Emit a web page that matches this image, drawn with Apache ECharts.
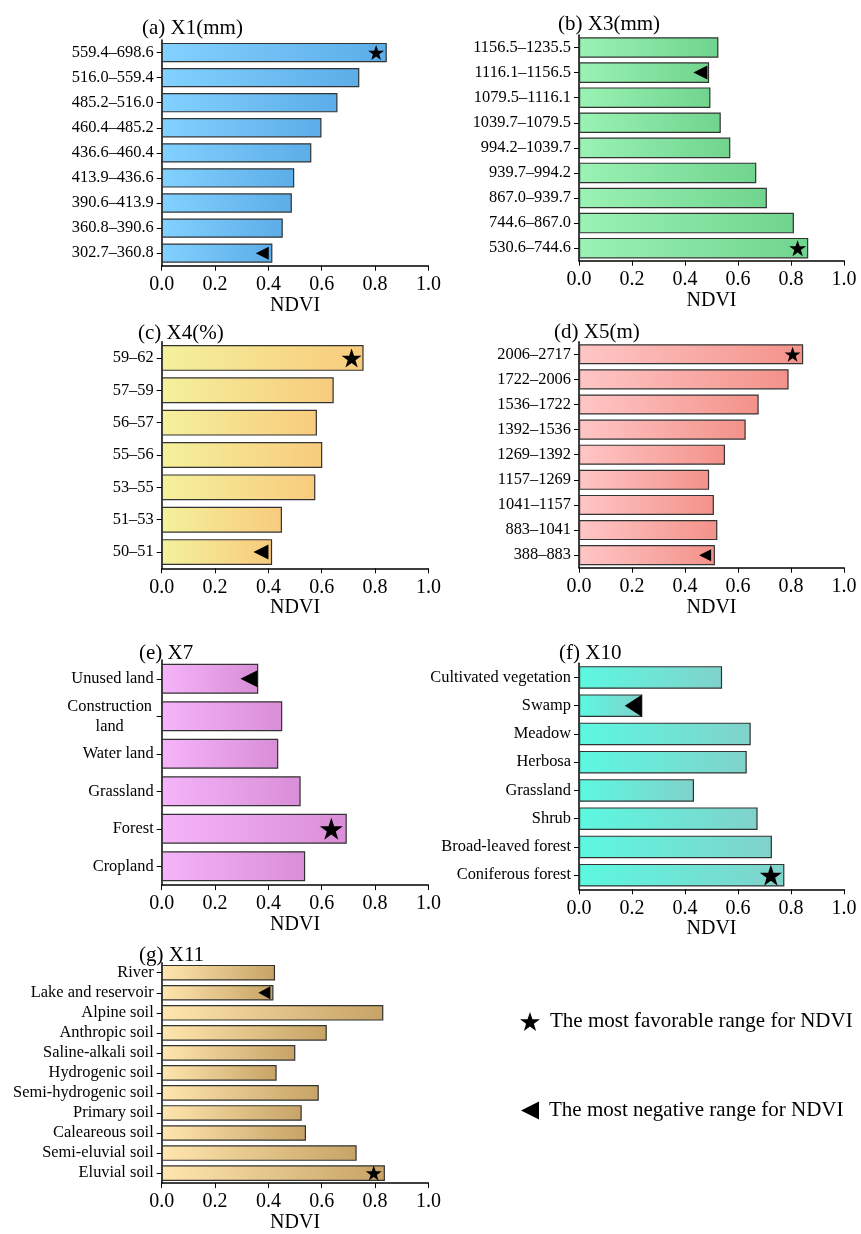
<!DOCTYPE html>
<html>
<head>
<meta charset="utf-8">
<script src="https://cdn.jsdelivr.net/npm/echarts@6/dist/echarts.min.js"></script>
<style>
html,body{margin:0;padding:0;background:#fff;}
#chart{width:861px;height:1234px;}
</style>
</head>
<body>
<div id="chart"></div>
<script>
// ---- Data ----
const xTicks = [0.0, 0.2, 0.4, 0.6, 0.8, 1.0];

const catsA = ['559.4–698.6','516.0–559.4','485.2–516.0','460.4–485.2','436.6–460.4','413.9–436.6','390.6–413.9','360.8–390.6','302.7–360.8'];
const valsA = [0.844, 0.741, 0.659, 0.599, 0.561, 0.497, 0.488, 0.454, 0.415];
const starA = [0.804, '559.4–698.6'];
const triA  = [0.377, '302.7–360.8'];

const catsB = ['1156.5–1235.5','1116.1–1156.5','1079.5–1116.1','1039.7–1079.5','994.2–1039.7','939.7–994.2','867.0–939.7','744.6–867.0','530.6–744.6'];
const valsB = [0.526, 0.491, 0.496, 0.535, 0.571, 0.669, 0.709, 0.811, 0.865];
const starB = [0.825, '530.6–744.6'];
const triB  = [0.458, '1116.1–1156.5'];

const catsC = ['59–62','57–59','56–57','55–56','53–55','51–53','50–51'];
const valsC = [0.757, 0.645, 0.582, 0.602, 0.576, 0.451, 0.414];
const starC = [0.712, '59–62'];
const triC  = [0.372, '50–51'];

const catsD = ['2006–2717','1722–2006','1536–1722','1392–1536','1269–1392','1157–1269','1041–1157','883–1041','388–883'];
const valsD = [0.846, 0.791, 0.678, 0.629, 0.551, 0.491, 0.509, 0.522, 0.513];
const starD = [0.806, '2006–2717'];
const triD  = [0.476, '388–883'];

const catsE = ['Unused land','Construction land','Water land','Grassland','Forest','Cropland'];
const valsE = [0.362, 0.452, 0.437, 0.521, 0.694, 0.538];
const starE = [0.636, 'Forest'];
const triE  = [0.327, 'Unused land'];

const catsF = ['Cultivated vegetation','Swamp','Meadow','Herbosa','Grassland','Shrub','Broad-leaved forest','Coniferous forest'];
const valsF = [0.540, 0.239, 0.648, 0.633, 0.434, 0.674, 0.728, 0.775];
const starF = [0.724, 'Coniferous forest'];
const triF  = [0.205, 'Swamp'];

const catsG = ['River','Lake and reservoir','Alpine soil','Anthropic soil','Saline-alkali soil','Hydrogenic soil','Semi-hydrogenic soil','Primary soil','Caleareous soil','Semi-eluvial soil','Eluvial soil'];
const valsG = [0.425, 0.419, 0.831, 0.619, 0.501, 0.431, 0.589, 0.525, 0.541, 0.731, 0.837];
const starG = [0.795, 'Eluvial soil'];
const triG  = [0.385, 'Lake and reservoir'];

const titles = ['(a) X1(mm)','(b) X3(mm)','(c) X4(%)','(d) X5(m)','(e) X7','(f) X10','(g) X11'];
const legendNames = ['The most favorable range for NDVI','The most negative range for NDVI'];

// ---- Layout / style ----
const FONT = "'Liberation Serif','Times New Roman',serif";
const STAR = 'path://M50,0 L61.8,35.1 L98.1,35.1 L68.8,56.8 L79.4,91.5 L50,70 L20.6,91.5 L31.2,56.8 L1.9,35.1 L38.2,35.1 Z';
const TRI = 'path://M0,50 L100,0 L100,100 Z';
const LBL = 16.4;

const panels = [
  {cats: catsA, vals: valsA, star: starA, tri: triA, grid:{left:161.7, top:40, width:266.7, height:225.7}, gap:'23%', c:['#82d1ff','#5cade8'], starSize:[16,15], triSize:[13,13], title:{left:137, top:13}},
  {cats: catsB, vals: valsB, star: starB, tri: triB, grid:{left:579, top:35, width:265, height:225.7}, gap:'18%', c:['#9af3b4','#70d48e'], starSize:[17,16], triSize:[14,14], title:{left:553, top:9}},
  {cats: catsC, vals: valsC, star: starC, tri: triC, grid:{left:161.7, top:341.7, width:266.7, height:226.6}, gap:'20%', c:['#f4f19c','#f8cb7d'], starSize:[20,19], triSize:[15,15], title:{left:133, top:318}},
  {cats: catsD, vals: valsD, star: starD, tri: triD, grid:{left:579, top:341.7, width:265, height:226}, gap:'20%', c:['#ffc6c6','#f3928a'], starSize:[16,15], triSize:[12,12], title:{left:549, top:317}},
  {cats: catsE, vals: valsE, star: starE, tri: triE, grid:{left:161.7, top:660, width:266.7, height:225}, gap:'20%', c:['#f5b4f9','#d98ed7'], starSize:[23,22], triSize:[17,17], title:{left:134, top:638}},
  {cats: catsF, vals: valsF, star: starF, tri: triF, grid:{left:579, top:663.3, width:265, height:226}, gap:'20%', c:['#5cf8e0','#80d2cb'], starSize:[22,21], triSize:[17,22], title:{left:554, top:638}},
  {cats: catsG, vals: valsG, star: starG, tri: triG, grid:{left:161.7, top:962.7, width:266.7, height:225.6}, gap:'22%', c:['#ffe6ae','#c7a366'], starSize:[16,15], triSize:[12,13], title:{left:134, top:940}}
];

const option = {
  backgroundColor: '#fff',
  animation: false,
  title: [], grid: [], xAxis: [], yAxis: [], series: [],
  legend: [
    {data:[legendNames[0]], left:515, top:1006, icon:STAR, itemWidth:20, itemHeight:19, selectedMode:false,
     itemStyle:{opacity:1},
     textStyle:{fontFamily:FONT, fontSize:21, color:'#000', padding:[0,0,0,5]}},
    {data:[legendNames[1]], left:516, top:1095, icon:TRI, itemWidth:18, itemHeight:18, selectedMode:false,
     itemStyle:{opacity:1},
     textStyle:{fontFamily:FONT, fontSize:21, color:'#000', padding:[0,0,0,5]}}
  ]
};

panels.forEach((p, i) => {
  option.title.push({text: titles[i], left: p.title.left, top: p.title.top,
    textStyle:{fontFamily:FONT, fontSize:21, fontWeight:'normal', color:'#000'}});
  option.grid.push(Object.assign({containLabel:false}, p.grid));
  option.xAxis.push({
    type:'value', gridIndex:i, min:xTicks[0], max:xTicks[xTicks.length-1], interval:0.2,
    name:'NDVI', nameLocation:'middle', nameGap:28,
    nameTextStyle:{fontFamily:FONT, fontSize:20, color:'#000'},
    axisLine:{show:true, lineStyle:{color:'#000', width:1.5}},
    axisTick:{show:true, length:5, lineStyle:{color:'#000', width:1}},
    axisLabel:{fontFamily:FONT, fontSize:20, color:'#000', margin:9, formatter:v => v.toFixed(1)},
    splitLine:{show:false}
  });
  option.yAxis.push({
    type:'category', gridIndex:i, data:p.cats, inverse:true,
    axisLine:{show:true, lineStyle:{color:'#000', width:1.5}},
    axisTick:{show:true, alignWithLabel:true, interval:0, length:5, lineStyle:{color:'#000', width:1}},
    axisLabel:{fontFamily:FONT, fontSize:LBL, color:'#000', margin:8, interval:0,
      formatter: v => v === 'Construction land' ? '{c|Construction}\n{c|land}' : v,
      rich:{c:{fontFamily:FONT, fontSize:LBL, color:'#000', width:88, align:'center', lineHeight:20}}},
    splitLine:{show:false}
  });
  option.series.push({
    type:'bar', xAxisIndex:i, yAxisIndex:i, data:p.vals, barCategoryGap:p.gap,
    itemStyle:{
      color:new echarts.graphic.LinearGradient(0,0,1,0,[{offset:0,color:p.c[0]},{offset:1,color:p.c[1]}]),
      borderColor:'#333', borderWidth:1.2
    },
    silent:true
  });
  option.series.push({
    name:legendNames[0], type:'scatter', xAxisIndex:i, yAxisIndex:i, data:[p.star],
    symbol:STAR, symbolSize:p.starSize, itemStyle:{color:'#000', opacity:1}, z:5, silent:true
  });
  option.series.push({
    name:legendNames[1], type:'scatter', xAxisIndex:i, yAxisIndex:i, data:[p.tri],
    symbol:TRI, symbolSize:p.triSize, itemStyle:{color:'#000', opacity:1}, z:5, silent:true
  });
});

const chart = echarts.init(document.getElementById('chart'), null, {renderer:'canvas'});
chart.setOption(option);
</script>
</body>
</html>
